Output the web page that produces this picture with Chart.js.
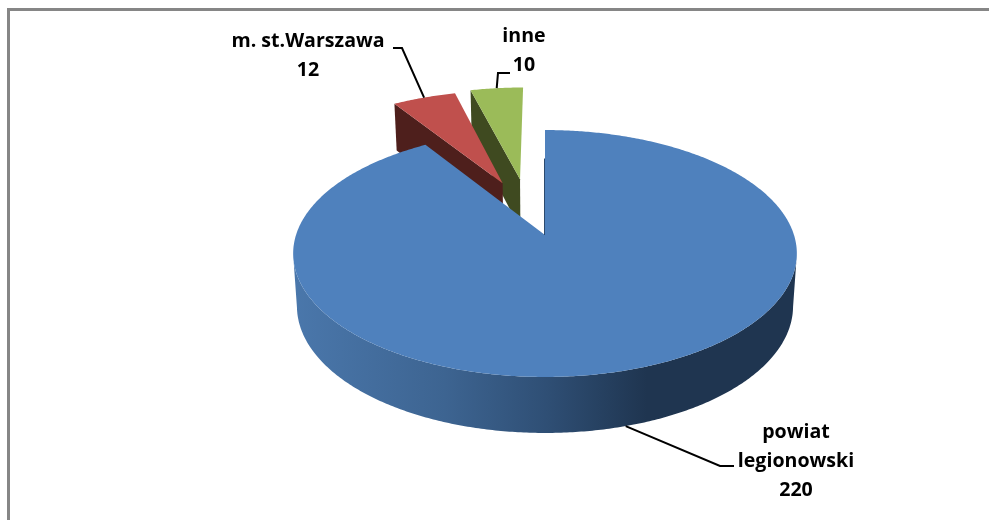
<!DOCTYPE html>
<html>
<head>
<title>Pie</title>
<style>
html, body { margin: 0; padding: 0; background: #fff; overflow: hidden; }
#wrap { width: 989px; height: 520px; position: relative; }
</style>
</head>
<body>
<script src="https://cdn.jsdelivr.net/npm/chart.js@4/dist/chart.umd.min.js"></script>
<div id="wrap"><canvas id="myChart" width="989" height="520"></canvas></div>
<script type="text/javascript">
var categories = [["powiat", "legionowski"], ["m. st.Warszawa"], ["inne"]];
var values = [220, 12, 10];
var topColors = ["#4f81bd", "#c0504d", "#9bbb59"];
var wallColors = ["#2c4a6e", "#4e1f1c", "#3f4a20"];

// perspective of the disc: unit circle -> screen
var cx = 545, radius = 249, yMid = 235, yA = 85.5, persp = -0.1498;

function project(px, py, low) {
  var w = 1 + persp * py;
  var sx = radius * px / w;
  var sy = (yA * py + yMid) / w;
  if (low) {
    sx = sx * 0.985;
    sy = sy + 52 + 4 * py;
  }
  return [cx + sx, sy];
}

// exploded slices lean a little off their middle angle
var leanX = [0, 0.02, -0.043];
var calloutElbows = [[[720, 466], [734, 466]], [[402, 48], [393, 48]], [[498, 73], [510, 73]]];
var calloutText = [[796, 432], [308, 41], [524, 36]];
var lineGap = 29;

function sliceOutline(arc, i) {
  var p = arc.getProps(["startAngle", "endAngle", "outerRadius"], true);
  var mid = (p.startAngle + p.endAngle) / 2;
  var d = arc.options.offset / p.outerRadius;
  var ox = Math.cos(mid) * d + leanX[i];
  var oy = Math.sin(mid) * d;
  var pts = [];
  var steps = Math.ceil((p.endAngle - p.startAngle) / 0.01);
  for (var s = 0; s <= steps; s++) {
    var a = p.startAngle + (p.endAngle - p.startAngle) * s / steps;
    pts.push([ox + Math.cos(a), oy + Math.sin(a)]);
  }
  return {pts: pts, ox: ox, oy: oy, mid: mid};
}

function fillPoly(ctx, pts, color) {
  ctx.beginPath();
  pts.forEach(function (q, n) {
    if (n === 0) ctx.moveTo(q[0], q[1]); else ctx.lineTo(q[0], q[1]);
  });
  ctx.closePath();
  ctx.fillStyle = color;
  ctx.fill();
}

function rim(ctx, o) {
  // front part of the rim only, from one side of the disc to the other
  var front = o.pts.filter(function (q) { return q[1] >= 0.15; });
  var g = ctx.createLinearGradient(294, 0, 798, 0);
  g.addColorStop(0, "#4a77ab");
  g.addColorStop(0.3, "#3d6491");
  g.addColorStop(0.5, "#2f4f75");
  g.addColorStop(0.7, "#1f3550");
  g.addColorStop(1, "#1f3550");
  var high = front.map(function (q) { return project(q[0], q[1], false); });
  var low = front.map(function (q) { return project(q[0], q[1], true); });
  fillPoly(ctx, high.concat(low.reverse()), g);
}

var pie3d = {
  id: "pie3d",
  beforeDatasetDraw: function (chart, args) {
    var ctx = chart.ctx;
    var arcs = chart.getDatasetMeta(args.index).data;
    // back slices first, the big one goes over them
    [2, 1, 0].forEach(function (i) {
      var o = sliceOutline(arcs[i], i);
      var ring = [[o.ox, o.oy]].concat(o.pts);
      if (i === 0) {
        rim(ctx, o);
      } else {
        // only the wall under the opening edge can be seen
        var a = ring[0], b = ring[1];
        fillPoly(ctx, [project(a[0], a[1], false), project(b[0], b[1], false),
                       project(b[0], b[1], true), project(a[0], a[1], true)], wallColors[i]);
      }
      fillPoly(ctx, ring.map(function (q) { return project(q[0], q[1], false); }), topColors[i]);
      if (i === 0) {
        // the opening edge of the big slice shows as a thin dark line
        var apex = project(o.ox, o.oy, false);
        var upper = project(o.ox, o.oy - 0.7, false);
        ctx.beginPath();
        ctx.moveTo(apex[0] - 0.5, apex[1]);
        ctx.lineTo(upper[0] - 0.5, upper[1]);
        ctx.strokeStyle = wallColors[0];
        ctx.lineWidth = 1;
        ctx.stroke();
      }
    });
    drawCallouts(ctx, arcs);
    return false;
  }
};

function drawCallouts(ctx, arcs) {
  ctx.font = "bold 19.6px 'Open Sans', sans-serif";
  ctx.textAlign = "center";
  ctx.textBaseline = "middle";
  arcs.forEach(function (arc, i) {
    var o = sliceOutline(arc, i);
    var mx = o.ox + Math.cos(o.mid), my = o.oy + Math.sin(o.mid);
    var start = project(mx, my, i === 0);
    ctx.beginPath();
    ctx.moveTo(start[0], start[1]);
    calloutElbows[i].forEach(function (q) { ctx.lineTo(q[0], q[1]); });
    ctx.strokeStyle = "#000";
    ctx.lineWidth = 2;
    ctx.stroke();
    ctx.fillStyle = "#000";
    var lines = categories[i].concat(String(values[i]));
    lines.forEach(function (t, n) {
      ctx.fillText(t, calloutText[i][0], calloutText[i][1] + n * lineGap);
    });
  });
}

// only the top and left of the frame are in the picture
var frame = {
  id: "frame",
  beforeDraw: function (chart) {
    var ctx = chart.ctx;
    ctx.fillStyle = "#fff";
    ctx.fillRect(0, 0, chart.width, chart.height);
    ctx.fillStyle = "#868686";
    ctx.fillRect(7, 8, chart.width - 7, 3);
    ctx.fillRect(7, 8, 3, chart.height - 8);
  }
};

var ctx = document.getElementById("myChart").getContext("2d");
var myChart = new Chart(ctx, {
  type: "pie",
  data: {
    labels: categories,
    datasets: [{
      data: values,
      backgroundColor: topColors,
      borderWidth: 0,
      offset: [0, 104, 104]
    }]
  },
  options: {
    responsive: false,
    animation: false,
    layout: {padding: 0},
    plugins: {legend: {display: false}, tooltip: {enabled: false}}
  },
  plugins: [frame, pie3d]
});
</script>
</body>
</html>
